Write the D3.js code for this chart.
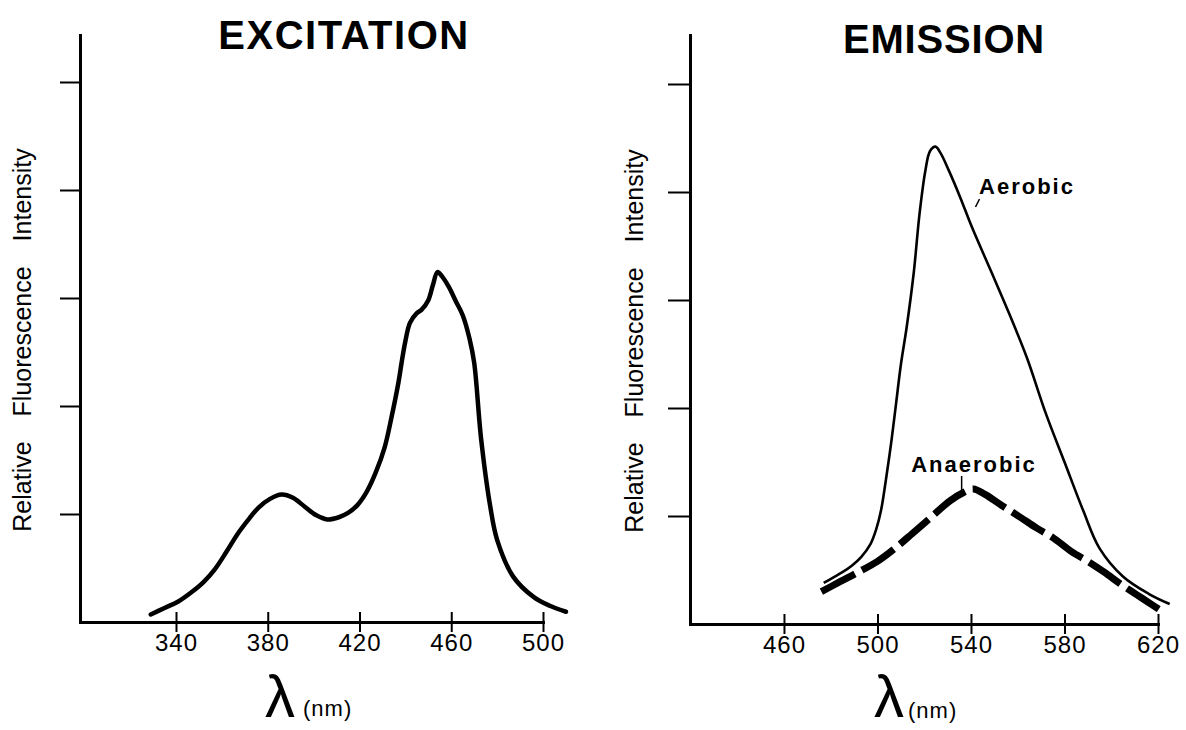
<!DOCTYPE html>
<html><head><meta charset="utf-8">
<script src="https://cdn.jsdelivr.net/npm/d3@7"></script>
<style>
body{margin:0;background:#fff}
svg{display:block}
text{font-family:"Liberation Sans",Arial,Helvetica,sans-serif;fill:#000}
</style>
</head><body>
<svg id="c" width="1186" height="730"></svg>
<script>
// ---- Data ----
const excitationNm  = [329,335,341,347,352,357,362,367,372,376,381,386,391,396,401,406,411,415,419,423,427,431,434,437,438.5,440,442,445,447,450,452,454,456,459,462,465,468,470,473,477,480,487,496,503,510];
const excitationVal = [0.07,0.13,0.19,0.28,0.37,0.49,0.65,0.82,0.96,1.06,1.14,1.18,1.15,1.07,0.99,0.95,0.97,1.01,1.08,1.20,1.38,1.62,1.90,2.22,2.42,2.60,2.77,2.86,2.89,2.98,3.12,3.24,3.20,3.10,2.97,2.84,2.62,2.40,1.70,1.07,0.76,0.42,0.23,0.15,0.095];

const aerobicNm  = [477,481,485,489,493,497,499.5,501.5,503.5,506,508,510,512.5,515.5,518,520.5,522.5,524.8,527,530.5,535.4,540.3,548.5,556.6,564,572,580,588,595,605,616,625];
const aerobicVal = [0.38,0.43,0.48,0.54,0.62,0.74,0.88,1.05,1.32,1.70,2.05,2.40,2.75,3.25,3.80,4.20,4.38,4.42,4.36,4.20,3.95,3.68,3.27,2.86,2.46,1.95,1.50,1.05,0.70,0.44,0.28,0.185];

const anaerobicNm  = [476,483,490,500,508,515,523,531,537,541,546,553,561,568,575,583,590,597,604,611,618,623];
const anaerobicVal = [0.30,0.38,0.46,0.58,0.71,0.84,0.99,1.14,1.22,1.25,1.20,1.10,0.99,0.89,0.80,0.67,0.58,0.48,0.37,0.27,0.17,0.10];

const excitationTicks = [340,380,420,460,500];
const emissionTicks   = [460,500,540,580,620];
const intensityTicks  = [1,2,3,4,5];

const titles = ["EXCITATION","EMISSION"];
const yLabel = "Relative Fluorescence Intensity";
const seriesLabels = ["Aerobic","Anaerobic"];

// ---- Drawing ----
const svg = d3.select("#c");

function panel(cfg){
  const g = svg.append("g");
  const x = d3.scaleLinear().domain(cfg.xDomain).range(cfg.xRange);
  const y = d3.scaleLinear().domain([0, cfg.yMax]).range([cfg.y0, cfg.yTop]);

  // x axis
  const xa = g.append("g").attr("transform",`translate(0,${cfg.y0})`)
    .call(d3.axisBottom(x).tickValues(cfg.ticks).tickSizeInner(10).tickSizeOuter(0).tickPadding(2).tickFormat(d3.format("d")));
  xa.select(".domain").attr("stroke-width",3).attr("stroke-linecap","square");
  xa.selectAll(".tick line").attr("y1",-10).attr("y2",10).attr("stroke-width",2);
  xa.selectAll(".tick text").attr("font-size",24).attr("letter-spacing","1px")
    .attr("font-family","'Liberation Sans',Arial,sans-serif").attr("fill","#000");

  // y axis
  const ya = g.append("g").attr("transform",`translate(${cfg.xRange[0]},0)`)
    .call(d3.axisLeft(y).tickValues(intensityTicks).tickSizeInner(cfg.yTick).tickSizeOuter(0).tickFormat(""));
  ya.select(".domain").attr("stroke-width",3).attr("stroke-linecap","square");
  ya.selectAll(".tick line").attr("stroke-width",2);

  // title
  g.append("text").attr("x",cfg.titleX).attr("y",cfg.titleY).attr("text-anchor","middle")
    .attr("font-size",40).attr("font-weight","bold").attr("letter-spacing",cfg.titleLS).text(cfg.title);

  // y label
  g.append("text").attr("transform",`translate(${cfg.labelX},${cfg.labelY}) rotate(-90)`)
    .attr("text-anchor","middle").attr("font-size",25).style("word-spacing","18px").text(yLabel);

  // lambda (nm)
  g.append("text").attr("x",cfg.lambdaX).attr("y",cfg.lambdaY).attr("font-size",60).text("λ");
  g.append("text").attr("x",cfg.nmX).attr("y",cfg.nmY).attr("font-size",22).attr("letter-spacing","1px").text("(nm)");

  return {g,x,y};
}

const left = panel({title:titles[0], titleX:344, titleY:49, titleLS:"1.5px", xDomain:[298.15,500], xRange:[80,543],
  y0:622, yTop:35, yMax:(622-35)/108, yTick:20, ticks:excitationTicks,
  labelX:31, labelY:340, lambdaX:265, lambdaY:717, nmX:303, nmY:716});

const right = panel({title:titles[1], titleX:944, titleY:53, titleLS:"0.8px", xDomain:[419.8,620], xRange:[690,1158],
  y0:624, yTop:35, yMax:(624-35)/108, yTick:22, ticks:emissionTicks,
  labelX:643, labelY:341, lambdaX:874, lambdaY:717, nmX:908, nmY:718});

function lineFor(p, xs, ys){
  return d3.line().curve(d3.curveCatmullRom.alpha(0.5))
    .x((d,i)=>p.x(xs[i])).y((d,i)=>p.y(ys[i]))(xs);
}

left.g.append("path").attr("d",lineFor(left,excitationNm,excitationVal))
  .attr("fill","none").attr("stroke","#000").attr("stroke-width",4.5).attr("stroke-linecap","round").attr("stroke-linejoin","round");

right.g.append("path").attr("d",lineFor(right,aerobicNm,aerobicVal))
  .attr("fill","none").attr("stroke","#000").attr("stroke-width",2.6).attr("stroke-linejoin","round");

right.g.append("path").attr("d",lineFor(right,anaerobicNm,anaerobicVal))
  .attr("fill","none").attr("stroke","#000").attr("stroke-width",7).attr("stroke-dasharray","38,8");

// series labels with leaders
right.g.append("text").attr("x",1027).attr("y",194).attr("text-anchor","middle")
  .attr("font-size",22).attr("font-weight","bold").attr("letter-spacing","2px").text(seriesLabels[0]);
right.g.append("line").attr("x1",979.5).attr("y1",199).attr("x2",975.5).attr("y2",207).attr("stroke","#000").attr("stroke-width",1.5);

right.g.append("text").attr("x",974).attr("y",472).attr("text-anchor","middle")
  .attr("font-size",22).attr("font-weight","bold").attr("letter-spacing","2px").text(seriesLabels[1]);
right.g.append("line").attr("x1",right.x(536)).attr("y1",476).attr("x2",right.x(536)).attr("y2",490).attr("stroke","#000").attr("stroke-width",1.5);
</script>
</body></html>
